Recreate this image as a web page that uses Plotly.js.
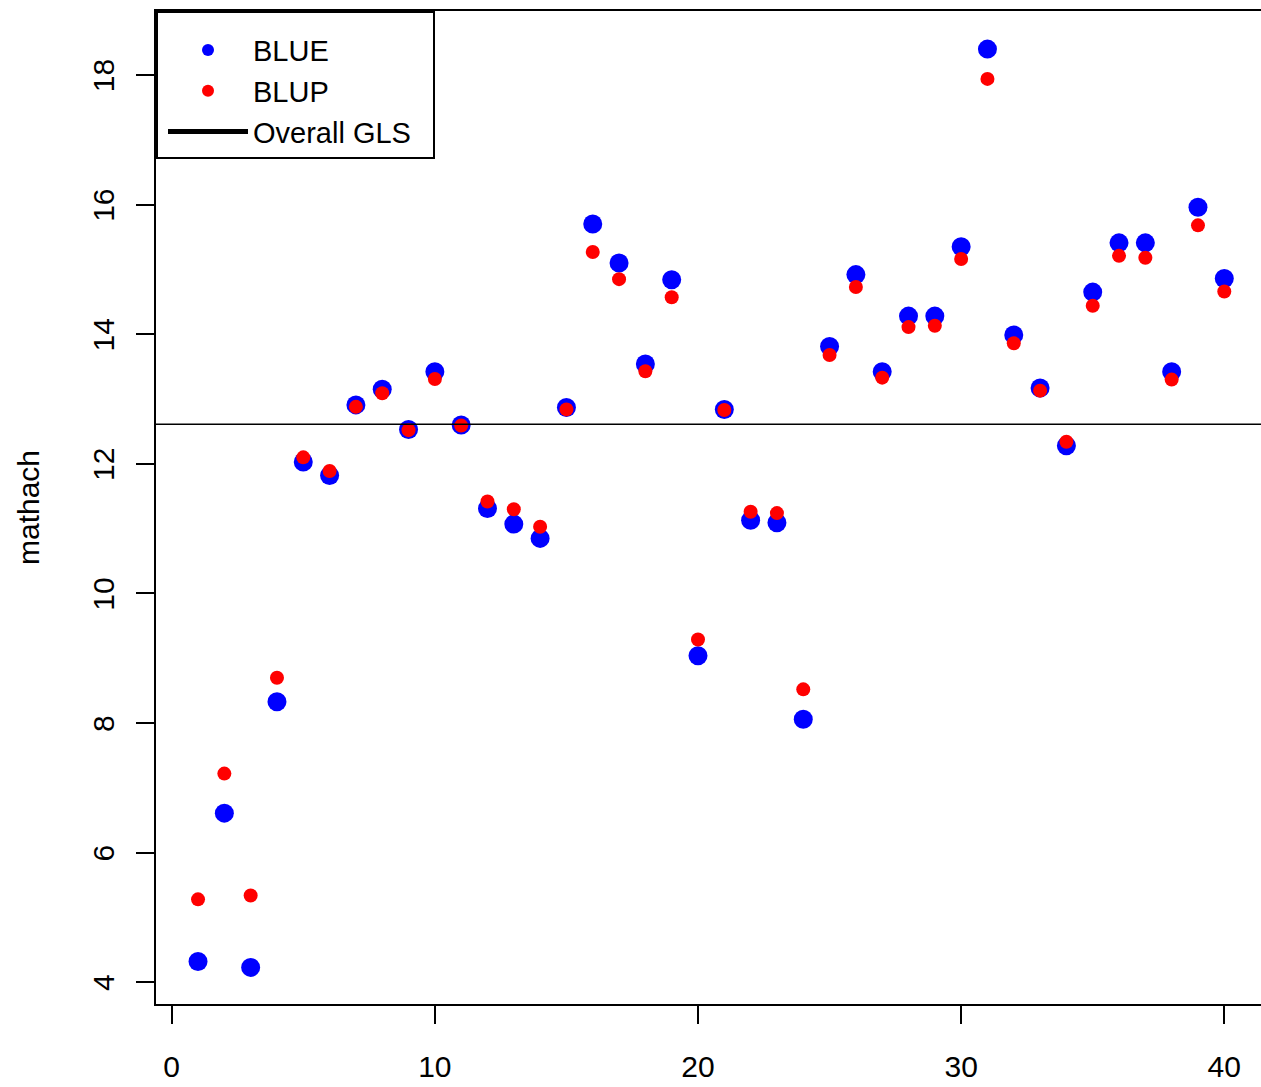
<!DOCTYPE html>
<html>
<head>
<meta charset="utf-8">
<script src="https://cdn.plot.ly/plotly-3.0.1.min.js"></script>
<style>html,body{margin:0;padding:0;background:#fff;overflow:hidden}</style>
</head>
<body>
<div id="chart" style="width:1261px;height:1087px"></div>
<script>
const school = Array.from({length: 40}, (_, i) => i + 1);
const blue = [4.32, 6.61, 4.23, 8.33, 12.03, 11.82, 12.91, 13.15, 12.53, 13.42,
              12.60, 11.31, 11.07, 10.85, 12.87, 15.70, 15.10, 13.54, 14.84, 9.04,
              12.84, 11.13, 11.09, 8.06, 13.81, 14.92, 13.42, 14.28, 14.28, 15.35,
              18.40, 13.99, 13.17, 12.28, 14.65, 15.41, 15.41, 13.42, 15.96, 14.86];
const blup = [5.28, 7.22, 5.34, 8.70, 12.10, 11.89, 12.88, 13.09, 12.52, 13.31,
              12.59, 11.42, 11.30, 11.03, 12.84, 15.27, 14.85, 13.43, 14.57, 9.29,
              12.83, 11.26, 11.24, 8.52, 13.68, 14.73, 13.33, 14.11, 14.13, 15.16,
              17.94, 13.86, 13.13, 12.34, 14.44, 15.21, 15.18, 13.30, 15.68, 14.66];
const glsValue = 12.61;
const xTicks = [0, 10, 20, 30, 40];
const yTicks = [4, 6, 8, 10, 12, 14, 16, 18];
const xRange = [-0.597, 41.395];
const yRange = [3.665, 18.988];
// rotated tick labels sit ~5px high in Plotly; a label-only overlay axis nudges them down
const labelShift = 0.077;

const font = 'Liberation Sans, Arial, Helvetica, sans-serif';

const traces = [
  {x: school, y: blue, type: 'scatter', mode: 'markers', name: 'BLUE',
   marker: {color: '#0000FF', size: 19}},
  {x: school, y: blup, type: 'scatter', mode: 'markers', name: 'BLUP',
   marker: {color: '#FF0000', size: 14}},
  {x: xRange, y: [glsValue, glsValue], type: 'scatter', mode: 'lines', name: 'Overall GLS\u00a0\u00a0',
   line: {color: '#000000', width: 1.5}},
  {x: [], y: [], type: 'scatter', mode: 'markers', yaxis: 'y2', showlegend: false, hoverinfo: 'skip'}
];

const layout = {
  width: 1261, height: 1087,
  margin: {l: 156, r: 0, t: 11, b: 83},
  paper_bgcolor: '#fff', plot_bgcolor: '#fff',
  font: {family: font, size: 30, color: '#000'},
  showlegend: true,
  legend: {x: 0, y: 1, xanchor: 'left', yanchor: 'top', bordercolor: '#000', borderwidth: 2,
           bgcolor: '#fff', font: {family: font, size: 29, color: '#000'}, itemsizing: 'constant',
           indentation: 5, itemwidth: 80,
           title: {text: '\u00a0', font: {family: font, size: 9, color: '#000'}}},
  xaxis: {range: xRange, tickvals: xTicks, ticktext: xTicks.map(String), ticks: 'outside', ticklen: 18,
          tickwidth: 2, tickcolor: '#000', showline: true, linewidth: 2, linecolor: '#000', mirror: true,
          showgrid: false, zeroline: false, ticklabelstandoff: 17,
          tickfont: {family: font, size: 30, color: '#000'}},
  yaxis: {range: yRange, tickvals: yTicks, ticks: 'outside', ticklen: 18,
          tickwidth: 2, tickcolor: '#000', showline: true, linewidth: 2, linecolor: '#000',
          showgrid: false, zeroline: false, showticklabels: false},
  yaxis2: {range: [yRange[0] + labelShift, yRange[1] + labelShift], overlaying: 'y', side: 'left', anchor: 'x',
           tickvals: yTicks, ticktext: yTicks.map(String), ticks: 'outside', ticklen: 18, tickcolor: 'rgba(0,0,0,0)',
           showline: false, showgrid: false, zeroline: false, tickangle: -90, ticklabelstandoff: 11,
           tickfont: {family: font, size: 30, color: '#000'},
           title: {text: 'mathach', font: {family: font, size: 30, color: '#000'}, standoff: 38}}
};

Plotly.newPlot('chart', traces, layout, {displayModeBar: false, staticPlot: true});
</script>
</body>
</html>
